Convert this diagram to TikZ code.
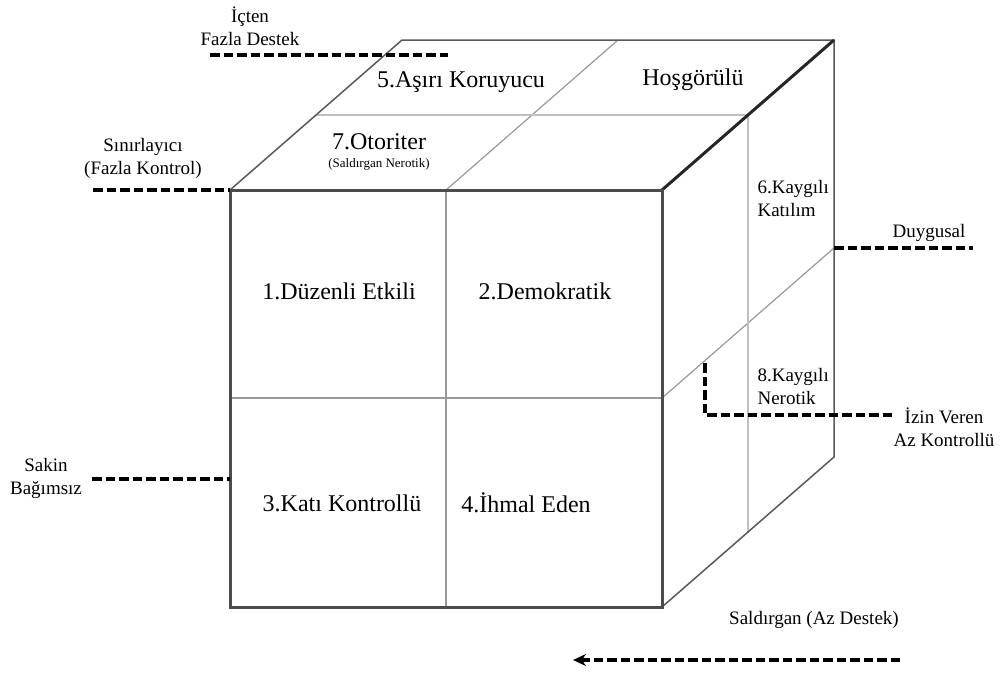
\documentclass[tikz,border=0pt]{standalone}
\usepackage{fontspec}
\setmainfont{Liberation Serif}
\usetikzlibrary{positioning,calc,arrows.meta}

\begin{document}
\begin{tikzpicture}[x=1pt, y=-1pt,
    edge/.style={line width=3pt, draw=black!70},
    rim/.style={line width=1.5pt, draw=black!65},
    split/.style={line width=1.2pt, draw=black!40},
    guide/.style={line width=3.2pt, dash pattern=on 9.5pt off 4pt},
    cell/.style={font=\fontsize{24}{26}\selectfont},
    tag/.style={font=\fontsize{19}{23}\selectfont, align=center}]
    \useasboundingbox (0, 0) rectangle (1001, 672);
    % cube corners
    \coordinate (ftl) at (230, 190);
    \coordinate (ftr) at (662, 190);
    \coordinate (fbl) at (230, 607);
    \coordinate (fbr) at (662, 607);
    \coordinate (btl) at (402, 40);
    \coordinate (btr) at (834, 40);
    \coordinate (bbr) at (834, 457);
    % inner splits
    \draw [split] (446, 190) -- (446, 607); % front vertical
    \draw [split] (230, 398) -- (662, 398); % front horizontal
    \draw [split] (446, 190) -- (618, 40); % top diagonal
    \draw [split] (ftr |- 0, 398) -- (834, 248); % side diagonal
    \draw [split, draw=black!25] (316, 115) -- (748, 115) -- (748, 532); % depth middle
    % outer edges
    \draw [rim] (ftl) -- (btl) -- (btr) -- (bbr) -- (fbr);
    \draw [edge, draw=black!85] (ftr) -- (btr);
    \draw [edge] (ftl) rectangle (fbr);
    % face labels
    \node [cell] (c1) at (339, 291) {1.Düzenli Etkili};
    \node [cell] (c2) at (545, 291) {2.Demokratik};
    \node [cell] (c3) at (342, 503) {3.Katı Kontrollü};
    \node [cell] (c4) at (526, 503) {4.İhmal Eden};
    \node [cell] (c5) at (461, 82) {5.Aşırı Koruyucu};
    \node [cell] (hos) at (693, 80) {Hoşgörülü};
    \node [cell] (c7) at (379, 142) {7.Otoriter};
    \node [font=\fontsize{13}{15}\selectfont] (c7s) at (379, 164) {(Saldırgan Nerotik)};
    \node [tag, align=left, anchor=west] (c6) at (754, 198) {6.Kaygılı\\Katılım};
    \node [tag, align=left, anchor=west] (c8) at (754, 386) {8.Kaygılı\\Nerotik};
    % axis labels
    \node [tag] (icten) at (250, 26) {İçten\\Fazla Destek};
    \node [tag] (sinir) at (143, 158) {Sınırlayıcı\\(Fazla Kontrol)};
    \node [tag] (sakin) at (46, 478) {Sakin\\Bağımsız};
    \node [tag] (duygu) at (929, 233) {Duygusal};
    \node [tag] (izin) at (944, 427) {İzin Veren\\Az Kontrollü};
    \node [tag] (saldir) at (814, 620) {Saldırgan (Az Destek)};
    % dashed guides
    \coordinate (ictenL) at (210, 55);
    \coordinate (ictenR) at (448, 55);
    \coordinate (sinirL) at (93, 190);
    \coordinate (sakinL) at (92, 479);
    \coordinate (sakinR) at (230, 479);
    \coordinate (duyguL) at (834, 248);
    \coordinate (duyguR) at (973, 248);
    \coordinate (izinT) at (705, 363);
    \coordinate (izinB) at (705, 415);
    \coordinate (izinR) at (893, 415);
    \coordinate (saldirR) at (900, 660);
    \coordinate (saldirL) at (573, 660);
    \draw [guide] (ictenL) -- (ictenR);
    \draw [guide] (sinirL) -- (ftl);
    \draw [guide] (sakinL) -- (sakinR);
    \draw [guide] (duyguL) -- (duyguR);
    \draw [guide] (izinT) -- (izinB) -- (izinR);
    \draw [guide, -{Stealth[length=13pt, width=12pt]}] (saldirR) -- (saldirL);
\end{tikzpicture}
\end{document}
